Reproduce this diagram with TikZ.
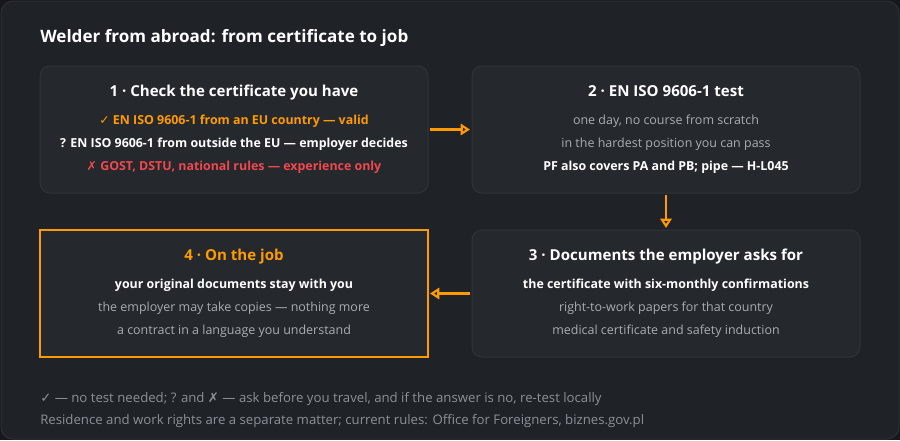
\documentclass[tikz,border=0pt]{standalone}
\usepackage{fontspec}
\setmainfont{Open Sans}
\newfontfamily\sym{DejaVu Sans}
\usetikzlibrary{arrows.meta}
\definecolor{outerbg}{HTML}{16181B}
\definecolor{panel}{HTML}{1F2226}
\definecolor{panelline}{HTML}{2C3035}
\definecolor{boxfill}{HTML}{25282C}
\definecolor{boxline}{HTML}{30343A}
\definecolor{accent}{HTML}{FF9A00}
\definecolor{warnred}{HTML}{F0484E}
\definecolor{soft}{HTML}{A9AEB4}
\definecolor{foot}{HTML}{8C9197}
\tikzset{
  card/.style={draw=boxline, line width=0.75pt, fill=boxfill, rounded corners=7.5pt,
    minimum width=291pt, minimum height=95.25pt, inner sep=0pt, outer sep=0pt},
  jobcard/.style={draw=accent, line width=1.5pt, fill=boxfill,
    minimum width=291pt, minimum height=95.25pt, inner sep=0pt, outer sep=0pt},
  title/.style={anchor=base west, inner sep=0pt, text=white, font=\fontsize{12.8}{15}\selectfont\bfseries},
  head/.style={anchor=base, inner sep=0pt, text=white, font=\fontsize{11.3}{13}\selectfont\bfseries},
  strong/.style={anchor=base, inner sep=0pt, text=white, font=\fontsize{9.3}{11}\selectfont\bfseries},
  plain/.style={anchor=base, inner sep=0pt, text=soft, font=\fontsize{9.35}{11}\selectfont},
  note/.style={anchor=base west, inner sep=0pt, text=foot, font=\fontsize{9.9}{12}\selectfont},
  flow/.style={draw=accent, line width=1.6pt, -{Triangle[open, length=7pt, width=8.5pt]},
    shorten <=1.5pt, shorten >=1.5pt}
}
\begin{document}
\begin{tikzpicture}[x=0.75pt,y=-0.75pt]
\fill[outerbg] (0,0) rectangle (900,440);
\path[use as bounding box] (0,0) rectangle (900,440);
\draw[panelline, fill=panel, line width=0.75pt, rounded corners=9pt] (1,1) rectangle (899,439);

\node[title] (ttl) at (40,42) {Welder from abroad: from certificate to job};

\node[card] (b1) at (234,129.5) {};
\node[card] (b2) at (666,129.5) {};
\node[card] (b3) at (666,293.5) {};
\node[jobcard] (b4) at (234,293.5) {};

% box 1
\node[head] (h1) at (234,96) {1 · Check the certificate you have};
\node[strong, text=accent] (l11) at (234,124) {{\sym\bfseries ✓} EN ISO 9606-1 from an EU country — valid};
\node[strong] (l12) at (234,147) {? EN ISO 9606-1 from outside the EU — employer decides};
\node[strong, text=warnred] (l13) at (234,170) {{\sym\mdseries ✗} GOST, DSTU, national rules — experience only};

% box 2
\node[head] (h2) at (666,96) {2 · EN ISO 9606-1 test};
\node[plain] (l21) at (666,124) {one day, no course from scratch};
\node[plain] (l22) at (666,147) {in the hardest position you can pass};
\node[strong] (l23) at (666,170) {PF also covers PA and PB; pipe — H-L045};

% box 3
\node[head] (h3) at (666,260) {3 · Documents the employer asks for};
\node[strong] (l31) at (666,288) {the certificate with six-monthly confirmations};
\node[plain] (l32) at (666,311) {right-to-work papers for that country};
\node[plain] (l33) at (666,334) {medical certificate and safety induction};

% box 4
\node[head, text=accent] (h4) at (234,260) {4 · On the job};
\node[strong] (l41) at (234,288) {your original documents stay with you};
\node[plain] (l42) at (234,311) {the employer may take copies — nothing more};
\node[plain] (l43) at (234,334) {a contract in a language you understand};

% arrows
\draw[flow] (b1.east) -- (b2.west);
\draw[flow] (b2.south) -- (b3.north);
\draw[flow] (b3.west) -- (b4.east);

% footer
\node[note] (f1) at (40,402) {{\sym ✓} — no test needed; ? and {\sym ✗} — ask before you travel, and if the answer is no, re-test locally};
\node[note] (f2) at (40,424) {Residence and work rights are a separate matter; current rules: Office for Foreigners, biznes.gov.pl};
\end{tikzpicture}
\end{document}
